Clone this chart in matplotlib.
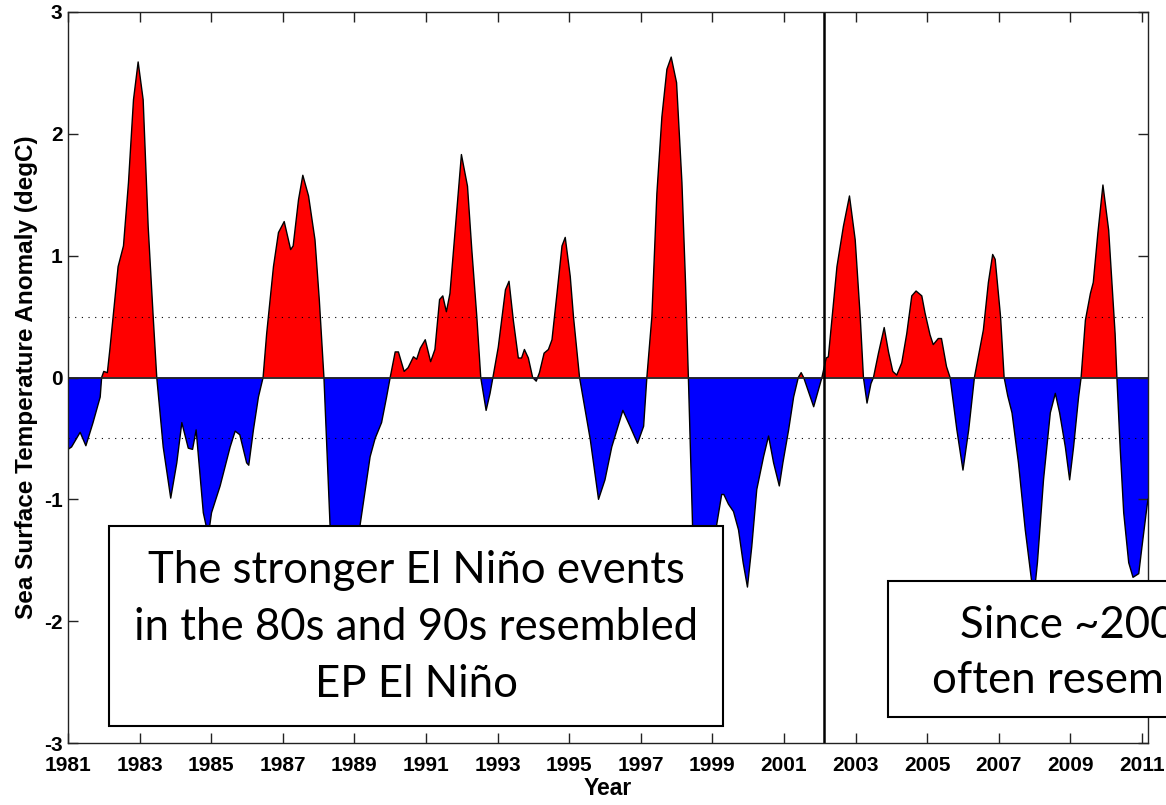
import matplotlib
matplotlib.use("Agg")
import matplotlib.pyplot as plt
import numpy as np
from matplotlib.patches import Rectangle

plt.rcParams['axes.unicode_minus'] = False

# anomalia de TSM (ano decimal, degC)
years = [1981.00, 1981.10, 1981.34, 1981.50, 1981.70, 1981.90, 1981.94, 1982.00, 1982.10, 1982.17,
         1982.40, 1982.55, 1982.69, 1982.83, 1982.96, 1983.10, 1983.24, 1983.38, 1983.48, 1983.66,
         1983.87, 1984.04, 1984.18, 1984.36, 1984.48, 1984.58, 1984.78, 1984.92, 1985.01, 1985.25,
         1985.53, 1985.67, 1985.80, 1985.99, 1986.05, 1986.18, 1986.32, 1986.45, 1986.55, 1986.74,
         1986.88, 1987.04, 1987.22, 1987.29, 1987.44, 1987.56, 1987.72, 1987.90, 1988.02, 1988.15,
         1988.32, 1988.45, 1988.65, 1988.85, 1988.95, 1989.05, 1989.16, 1989.44, 1989.58, 1989.76,
         1989.90, 1990.00, 1990.14, 1990.23, 1990.39, 1990.50, 1990.65, 1990.74, 1990.84, 1990.98,
         1991.13, 1991.25, 1991.38, 1991.47, 1991.57, 1991.67, 1991.81, 1991.99, 1992.16, 1992.28,
         1992.42, 1992.53, 1992.68, 1992.79, 1992.87, 1993.02, 1993.22, 1993.32, 1993.44, 1993.58,
         1993.67, 1993.75, 1993.86, 1993.98, 1994.08, 1994.17, 1994.30, 1994.42, 1994.52, 1994.66,
         1994.80, 1994.89, 1995.03, 1995.12, 1995.29, 1995.59, 1995.82, 1996.00, 1996.19, 1996.50,
         1996.70, 1996.91, 1997.08, 1997.17, 1997.31, 1997.45, 1997.59, 1997.73, 1997.85, 1998.00,
         1998.15, 1998.25, 1998.33, 1998.45, 1998.60, 1998.80, 1998.95, 1999.05, 1999.12, 1999.26,
         1999.32, 1999.45, 1999.59, 1999.73, 1999.86, 1999.98, 2000.10, 2000.24, 2000.43, 2000.57,
         2000.71, 2000.87, 2000.97, 2001.13, 2001.27, 2001.40, 2001.48, 2001.55, 2001.83, 2002.06,
         2002.18, 2002.24, 2002.48, 2002.66, 2002.83, 2002.99, 2003.13, 2003.22, 2003.32, 2003.43,
         2003.50, 2003.64, 2003.80, 2003.92, 2004.04, 2004.15, 2004.29, 2004.43, 2004.57, 2004.69,
         2004.85, 2004.94, 2005.08, 2005.17, 2005.31, 2005.40, 2005.54, 2005.64, 2005.83, 2006.00,
         2006.16, 2006.32, 2006.57, 2006.71, 2006.83, 2006.90, 2007.05, 2007.15, 2007.25, 2007.37,
         2007.55, 2007.74, 2007.93, 2008.00, 2008.08, 2008.25, 2008.44, 2008.58, 2008.70, 2008.86,
         2008.98, 2009.09, 2009.23, 2009.30, 2009.42, 2009.56, 2009.64, 2009.77, 2009.91, 2010.07,
         2010.16, 2010.25, 2010.30, 2010.39, 2010.49, 2010.63, 2010.75, 2010.91, 2011.00, 2011.14,
         2011.17]
anom = [-0.59, -0.57, -0.45, -0.56, -0.37, -0.16, 0.00, 0.05, 0.04, 0.23,
        0.91, 1.08, 1.60, 2.28, 2.59, 2.28, 1.24, 0.50, 0.00, -0.57,
        -0.99, -0.70, -0.37, -0.58, -0.59, -0.43, -1.11, -1.30, -1.11, -0.89,
        -0.57, -0.44, -0.47, -0.70, -0.72, -0.43, -0.16, 0.00, 0.36, 0.91,
        1.19, 1.28, 1.05, 1.08, 1.46, 1.66, 1.49, 1.13, 0.64, 0.00,
        -1.21, -1.45, -1.55, -1.95, -2.00, -1.65, -1.21, -0.65, -0.50, -0.37,
        -0.16, 0.00, 0.21, 0.21, 0.05, 0.08, 0.17, 0.15, 0.24, 0.31,
        0.13, 0.23, 0.64, 0.67, 0.54, 0.69, 1.19, 1.83, 1.57, 1.05,
        0.50, 0.00, -0.27, -0.13, 0.00, 0.25, 0.72, 0.79, 0.47, 0.16,
        0.16, 0.23, 0.16, 0.00, -0.03, 0.04, 0.20, 0.23, 0.31, 0.69,
        1.08, 1.15, 0.83, 0.50, 0.00, -0.51, -1.00, -0.84, -0.57, -0.27,
        -0.40, -0.54, -0.40, 0.00, 0.50, 1.51, 2.14, 2.53, 2.63, 2.42,
        1.60, 0.78, 0.00, -1.25, -1.30, -1.45, -1.60, -1.45, -1.21, -0.96,
        -0.96, -1.04, -1.10, -1.25, -1.52, -1.72, -1.39, -0.92, -0.65, -0.48,
        -0.70, -0.89, -0.70, -0.43, -0.16, 0.00, 0.04, 0.00, -0.24, 0.00,
        0.16, 0.17, 0.91, 1.24, 1.49, 1.13, 0.50, 0.00, -0.21, -0.05,
        0.00, 0.20, 0.41, 0.21, 0.05, 0.02, 0.12, 0.36, 0.67, 0.71,
        0.67, 0.53, 0.35, 0.27, 0.32, 0.32, 0.09, 0.00, -0.43, -0.76,
        -0.43, 0.00, 0.39, 0.78, 1.01, 0.97, 0.50, 0.00, -0.15, -0.29,
        -0.70, -1.25, -1.70, -1.75, -1.52, -0.84, -0.29, -0.13, -0.29, -0.57,
        -0.84, -0.57, -0.16, 0.00, 0.47, 0.69, 0.78, 1.19, 1.58, 1.21,
        0.78, 0.36, 0.00, -0.57, -1.11, -1.52, -1.64, -1.61, -1.39, -1.06,
        -1.00]

year_ticks = list(range(1981, 2012, 2))
anom_ticks = [-3, -2, -1, 0, 1, 2, 3]
split_year = 2002.12

texto1 = ["The stronger El Niño events", "in the 80s and 90s resembled", "EP El Niño"]
texto2 = ["Since ~2000, El Niño has", "often resembled CP El Niño"]

x = np.array(years)
y = np.array(anom)

fig = plt.figure(figsize=(11.66, 8.05), dpi=100)
ax = fig.add_axes([0.0583, 0.0770, 0.9263, 0.9081])

ax.fill_between(x, y, 0, where=y >= 0, interpolate=True, color='#ff0000', lw=0)
ax.fill_between(x, y, 0, where=y <= 0, interpolate=True, color='#0000ff', lw=0)
ax.plot(x, y, color='k', lw=1.0)
ax.axhline(0, color='#222222', lw=1.3)
for lvl in (0.5, -0.5):
    ax.axhline(lvl, color='k', lw=0.8, ls=(0, (1, 5)))
ax.axvline(split_year, color='k', lw=1.8)

ax.set_xlim(1981, 2011.17)
ax.set_ylim(-3, 3)
ax.set_xticks(year_ticks)
ax.set_yticks(anom_ticks)
ax.tick_params(direction='in', length=7.5, width=1, top=True, right=True,
               labelsize=15, color='#222222')
ax.tick_params(axis='x', pad=9)
ax.tick_params(axis='y', pad=4)
for lab in ax.get_xticklabels() + ax.get_yticklabels():
    lab.set_fontweight('bold')
    lab.set_family('Liberation Sans')
for s in ax.spines.values():
    s.set_linewidth(1.0)
    s.set_color('#222222')

ax.set_xlabel('Year', fontsize=16.5, fontweight='bold', family='Liberation Sans', labelpad=2)
ax.set_ylabel('Sea Surface Temperature Anomaly (degC)', fontsize=17.5, fontweight='bold',
              family='Liberation Sans', labelpad=4)

W, H = 1166.0, 805.0
# caixa 1
fig.patches.append(Rectangle((109.3 / W, 1 - 726 / H), 614 / W, 200.3 / H,
                             transform=fig.transFigure, facecolor='white',
                             edgecolor='black', lw=1.5, zorder=5))
for i, linha in enumerate(texto1):
    fig.text(416.3 / W, 1 - (583.3 + 56.7 * i) / H, linha, ha='center', va='baseline',
             fontsize=31.5, family='Lato', zorder=6)
# caixa 2 (cortada na borda direita, como no original)
fig.patches.append(Rectangle((888.3 / W, 1 - 716.7 / H), 300 / W, 135.7 / H,
                             transform=fig.transFigure, facecolor='white',
                             edgecolor='black', lw=1.5, zorder=5))
for xs, yb, linha in zip([960.0, 931.7], [638.0, 693.0], texto2):
    fig.text(xs / W, 1 - yb / H, linha, ha='left', va='baseline',
             fontsize=31.5, family='Lato', zorder=6)

fig.savefig('out.png', dpi=100)
